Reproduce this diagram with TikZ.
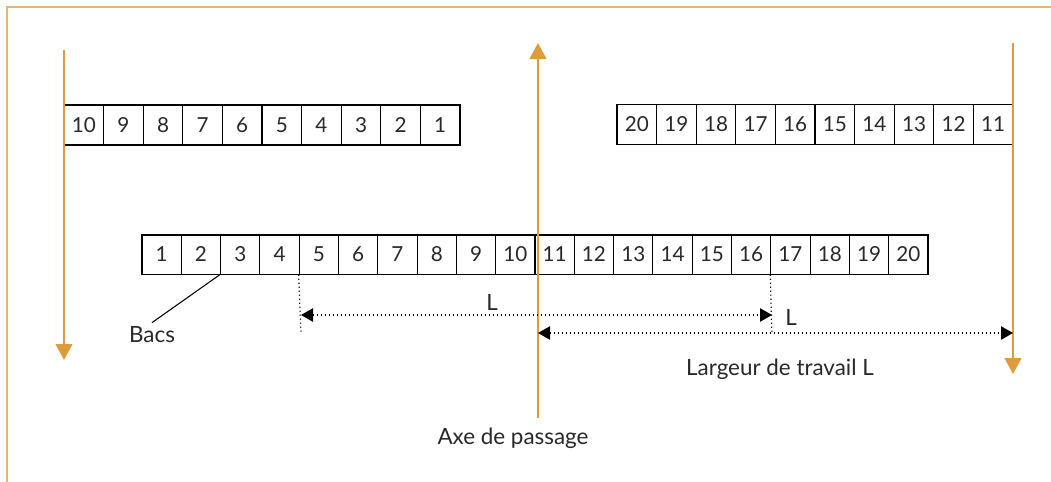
\documentclass[tikz,border=0pt]{standalone}
\usepackage{fontspec}
\setmainfont{Lato}
\usetikzlibrary{arrows.meta}
\definecolor{ora}{RGB}{221,155,60}
\definecolor{frm}{RGB}{232,180,115}
\definecolor{txt}{RGB}{40,40,40}
\begin{document}
\begin{tikzpicture}[x=0.75pt,y=-0.75pt,
  cell/.style={draw=black,line width=0.8pt,fill=white,minimum width=29.7pt,minimum height=30pt,inner sep=0pt,text=txt,font=\fontsize{15.5}{18}\selectfont},
  mcell/.style={cell,minimum width=29.5pt,minimum height=29.3pt},
  axis/.style={draw=ora,line width=1.6pt},
  otip/.style={-{Triangle[width=12.5pt,length=12pt]}},
  dots/.style={line width=0.9pt,dash pattern=on 0.9pt off 2.1pt},
  dim/.style={dots,{Triangle[width=10pt,length=9pt]}-{Triangle[width=10pt,length=9pt]}},
  lbl/.style={font=\fontsize{16.8}{20}\selectfont,inner sep=0pt,text=txt}]
\useasboundingbox (0,0) rectangle (1051,482);
\draw[frm,line width=0.9pt] (7,482) -- (7,7) -- (1051,7);
% top-left row
\foreach \i in {0,...,9}{\pgfmathtruncatemacro\n{10-\i}
  \node[cell] (tl\n) at ({64+39.6*(\i+0.5)},125) {\n};}
% top-right row
\foreach \i in {0,...,9}{\pgfmathtruncatemacro\n{20-\i}
  \node[cell] (tr\n) at ({617+39.6*(\i+0.5)},124.5) {\n};}
% middle row
\foreach \i in {0,...,19}{\pgfmathtruncatemacro\n{\i+1}
  \node[mcell] (m\n) at ({142+39.3*(\i+0.5)},254.5) {\n};}
% axes
\coordinate (lt) at (64,50); \coordinate (lb) at (64,360);
\coordinate (cb) at (538,418); \coordinate (ct) at (538,43);
\coordinate (rt) at (1013,43); \coordinate (rb) at (1013,374);
\draw[axis,otip] (lt) -- (lb);
\draw[axis,otip] (cb) -- (ct);
\draw[axis,otip] (rt) -- (rb);
% dimensions
\coordinate (d1b) at (301,332);
\coordinate (d2b) at (772,334);
\draw[dots] (m5.south west) -- (d1b);
\draw[dots] (m17.south west) -- (d2b);
\coordinate (a1l) at (301,315); \coordinate (a1r) at (772,315);
\coordinate (a2l) at (538,333); \coordinate (a2r) at (1013,333);
\draw[dim] (a1l) -- (a1r);
\draw[dim] (a2l) -- (a2r);
% labels
\node[lbl] (Lone) at (492,302) {L};
\node[lbl] (Ltwo) at (791,317) {L};
\node[lbl] (larg) at (780,369) {Largeur de travail L};
\node[lbl] (axe) at (513,438) {Axe de passage};
\node[lbl] (bacs) at (152,335) {Bacs};
\draw[line width=0.8pt] (m3.south west) -- ([yshift=3pt]bacs.north);
\end{tikzpicture}
\end{document}
